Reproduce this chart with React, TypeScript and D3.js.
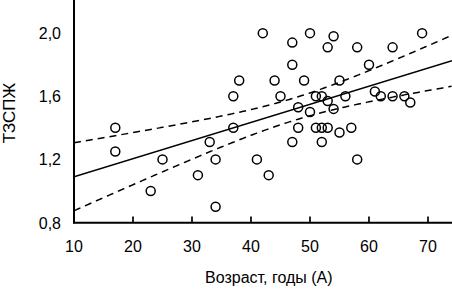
import React from "react";
import * as d3 from "d3";

// Scatter data: age (years) and TЗСПЖ value
const ages = [17, 17, 23, 25, 31, 33, 34, 34, 37, 37, 38, 41, 42, 43, 44, 45, 47, 47, 47, 48, 48, 49, 50, 50, 51, 51, 52, 52, 52, 53, 53, 53, 54, 54, 55, 55, 56, 57, 58, 58, 60, 61, 62, 64, 64, 66, 67, 69];
const values = [1.40, 1.25, 1.00, 1.20, 1.10, 1.31, 1.20, 0.90, 1.40, 1.60, 1.70, 1.20, 2.00, 1.10, 1.70, 1.60, 1.94, 1.80, 1.31, 1.53, 1.40, 1.70, 2.00, 1.50, 1.60, 1.40, 1.60, 1.40, 1.31, 1.91, 1.57, 1.40, 1.98, 1.52, 1.70, 1.37, 1.60, 1.40, 1.91, 1.20, 1.80, 1.63, 1.60, 1.91, 1.60, 1.60, 1.56, 2.00];

const xTicks = [10, 20, 30, 40, 50, 60, 70];
const yTicks = [0.8, 1.2, 1.6, 2.0];
const yTickLabels = ["0,8", "1,2", "1,6", "2,0"];

// Regression fit: y = intercept + slope * x
const regIntercept = 0.9753;
const regSlope = 0.01147;
// Confidence band: halfWidth = sqrt(bandMin^2 + bandCurv * (x - bandCenter)^2)
const bandMin = 0.071;
const bandCenter = 47.4;
const bandCurv = 2.96e-5;

const xDomain = [10, 74.07];
const yDomain = [0.8, 2.21];

export default function App() {
  const W = 452, H = 292;
  const x = d3.scaleLinear().domain(xDomain).range([74, 452]);
  const y = d3.scaleLinear().domain(yDomain).range([222.5, 0]);
  const font = "'Liberation Sans', Arial, sans-serif";

  const xs = d3.range(xDomain[0], xDomain[1] + 0.001, 0.25);
  const fit = (v: number) => regIntercept + regSlope * v;
  const hw = (v: number) => Math.sqrt(bandMin * bandMin + bandCurv * (v - bandCenter) * (v - bandCenter));
  const line = d3.line<number[]>().x(d => x(d[0])).y(d => y(d[1]));
  const upper = line(xs.map(v => [v, fit(v) + hw(v)])) || "";
  const lower = line(xs.map(v => [v, fit(v) - hw(v)])) || "";
  const mid = line([xDomain[0], xDomain[1]].map(v => [v, fit(v)])) || "";

  return (
    <svg width={W} height={H} style={{ position: "absolute", left: 0, top: 0, background: "#fff" }}>
      <rect width={W} height={H} fill="#fff" />
      <defs>
        <clipPath id="clip"><rect x={74} y={0} width={378} height={222.5} /></clipPath>
      </defs>
      <g clipPath="url(#clip)">
        <path d={upper} fill="none" stroke="#000" strokeWidth={1.5} strokeDasharray="7,5" />
        <path d={lower} fill="none" stroke="#000" strokeWidth={1.5} strokeDasharray="7,5" />
        <path d={mid} fill="none" stroke="#000" strokeWidth={1.6} />
        {ages.map((a, i) => (
          <circle key={i} cx={x(a)} cy={y(values[i])} r={4.5} fill="none" stroke="#000" strokeWidth={1.5} />
        ))}
      </g>
      {/* axes */}
      <line x1={74} y1={0} x2={74} y2={223.5} stroke="#000" strokeWidth={2} />
      <line x1={73} y1={222.7} x2={452} y2={222.7} stroke="#000" strokeWidth={2} />
      {xTicks.map(t => (
        <g key={t}>
          <line x1={x(t)} x2={x(t)} y1={222} y2={216.5} stroke="#000" strokeWidth={1.7} />
          <text x={x(t)} y={252} textAnchor="middle" fontFamily={font} fontSize={16} fill="#000">{t}</text>
        </g>
      ))}
      {yTicks.map((t, i) => (
        <text key={t} x={61} y={y(t) + 6} textAnchor="end" fontFamily={font} fontSize={16} fill="#000">{yTickLabels[i]}</text>
      ))}
      <text x={205} y={283} fontFamily={font} fontSize={16} fill="#000">Возраст, годы (А)</text>
      <text transform="translate(14.5,113) rotate(-90)" textAnchor="middle" fontFamily={font} fontSize={17} fill="#000">ТЗСПЖ</text>
    </svg>
  );
}
